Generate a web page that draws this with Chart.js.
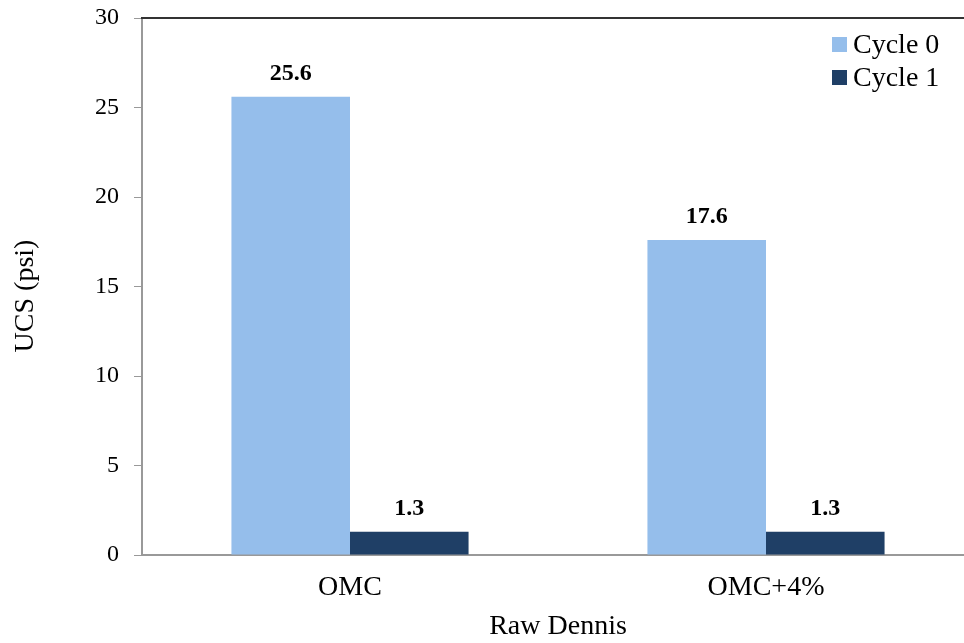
<!DOCTYPE html>
<html><head><meta charset="utf-8">
<script src="https://cdn.jsdelivr.net/npm/chart.js@4/dist/chart.umd.min.js"></script>
<style>html,body{margin:0;padding:0;background:#fff;overflow:hidden;width:964px;height:643px}#w{width:980px;height:643px}</style>
</head><body><div id="w"><canvas id="c" width="980" height="643"></canvas></div>
<script>
const categories = ["OMC", "OMC+4%"];
const seriesNames = ["Cycle 0", "Cycle 1"];
const cycle0 = [25.6, 17.6];
const cycle1 = [1.3, 1.3];
const colors = ["#95BEEB", "#1F3F66"];
const yTitle = "UCS (psi)";
const FONT = "'Liberation Serif','Times New Roman',serif";

const overlay = {
  id: 'overlay',
  afterDatasetsDraw(chart) {
    const ctx = chart.ctx, a = chart.chartArea;
    ctx.save();
    // top border
    ctx.strokeStyle = '#333'; ctx.lineWidth = 2;
    ctx.beginPath(); ctx.moveTo(a.left - 1, a.top); ctx.lineTo(a.right, a.top); ctx.stroke();
    // value labels
    ctx.fillStyle = '#000'; ctx.font = 'bold 24px ' + FONT;
    ctx.textAlign = 'center'; ctx.textBaseline = 'middle';
    chart.data.datasets.forEach((ds, i) => {
      chart.getDatasetMeta(i).data.forEach((el, j) => {
        ctx.fillText(ds.data[j].toFixed(1), el.x, el.y - 23);
      });
    });
    // y axis title
    ctx.save();
    ctx.font = '28px ' + FONT;
    ctx.translate(26, 296);
    ctx.rotate(-Math.PI / 2);
    ctx.fillText(yTitle, 0, 0);
    ctx.restore();
    // legend
    ctx.font = '28px ' + FONT; ctx.textAlign = 'left';
    chart.data.datasets.forEach((ds, i) => {
      const y = 45 + i * 33;
      ctx.fillStyle = ds.backgroundColor;
      ctx.fillRect(832, y - 8, 15, 15);
      ctx.fillStyle = '#000';
      ctx.fillText(ds.label, 853, y + 1);
    });
    ctx.restore();
  }
};

new Chart(document.getElementById('c'), {
  type: 'bar',
  data: {
    labels: categories,
    datasets: [
      { label: seriesNames[0], data: cycle0, backgroundColor: colors[0] },
      { label: seriesNames[1], data: cycle1, backgroundColor: colors[1] }
    ]
  },
  options: {
    responsive: false, animation: false,
    layout: { padding: { left: 0, top: 18, right: 6, bottom: 0 } },
    datasets: { bar: { categoryPercentage: 0.57, barPercentage: 1.0 } },
    plugins: { legend: { display: false }, tooltip: { enabled: false } },
    scales: {
      x: {
        afterFit: s => { s.height = 88; s.paddingLeft = 0; s.paddingRight = 0; },
        grid: { display: false, drawTicks: false },
        border: { color: '#999', width: 2 },
        ticks: { color: '#000', font: { family: FONT, size: 28 }, padding: 16 },
        title: { display: true, text: 'Raw Dennis', color: '#000', font: { family: FONT, size: 28 }, padding: { top: 0, bottom: 0 }, align: 'center' }
      },
      y: {
        min: 0, max: 30,
        afterFit: s => { s.width = 142; s.paddingTop = 0; s.paddingBottom = 0; },
        grid: { drawOnChartArea: false, tickLength: 8, color: '#999', tickColor: '#999' },
        border: { color: '#999', width: 2 },
        ticks: { stepSize: 5, color: '#000', font: { family: FONT, size: 24 }, padding: 15 },
        title: { display: false }
      }
    }
  },
  plugins: [overlay]
});
</script></body></html>
